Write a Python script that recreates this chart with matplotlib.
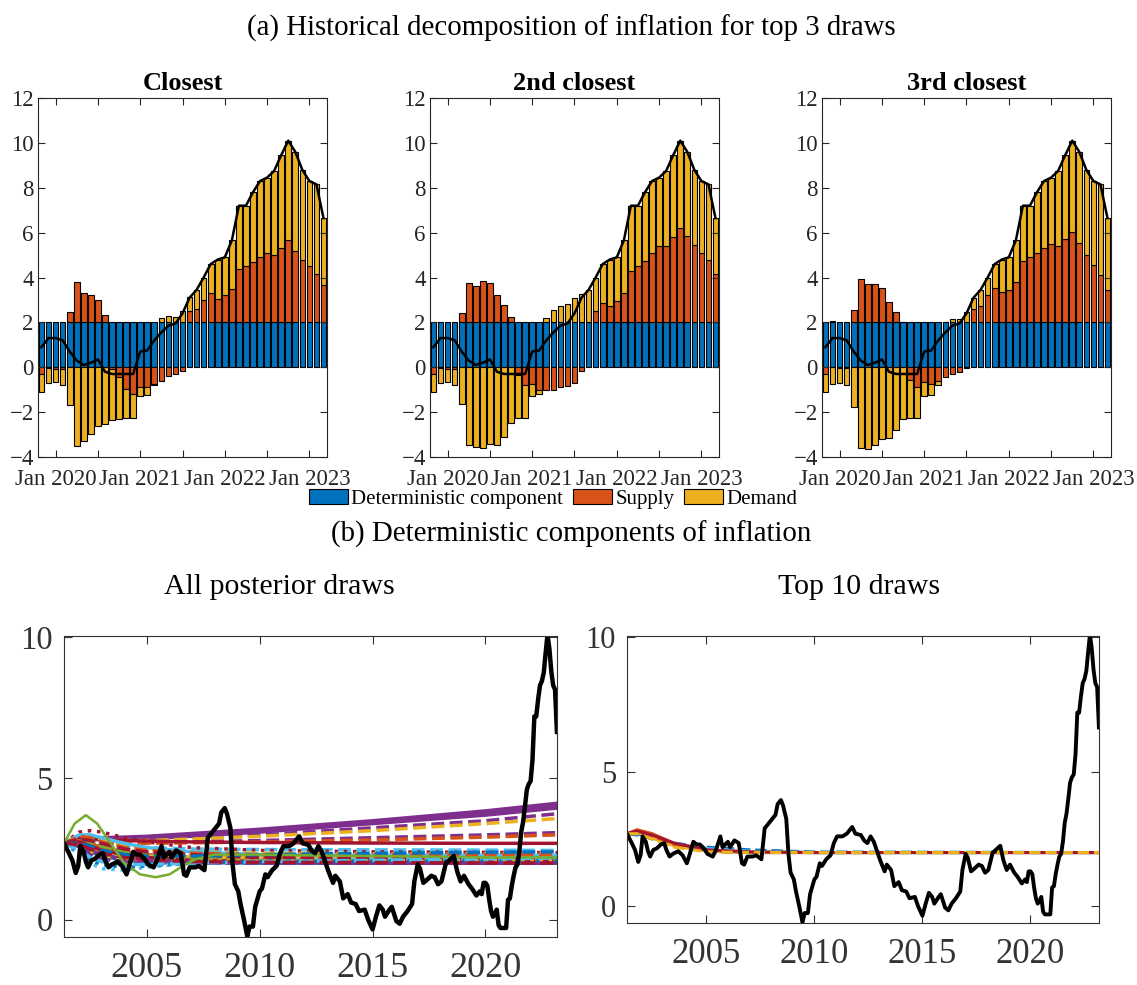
import numpy as np
import pandas as pd
import matplotlib.pyplot as plt

plt.switch_backend('agg')
plt.rcParams['font.family'] = ['Liberation Serif', 'DejaVu Serif']

# matlab default colour order
BLUE, ORANGE, YELLOW = '#0072BD', '#D95319', '#EDB120'
PURPLE, GREEN, CYAN, DRED = '#7E2F8E', '#77AC30', '#4DBEEE', '#A2142F'
AXGRAY = '#262626'

###
# historical decomposition, Nov 2019 - Mar 2023
###
months = pd.date_range('2019-11-01', '2023-03-01', freq='MS')
infl_top = [0.9, 1.3, 1.3, 1.2, 0.7, 0.3, 0.1, 0.2, 0.35, -0.2, -0.3, -0.3, -0.3, -0.3,
            0.7, 0.75, 1.2, 1.55, 1.85, 1.95, 2.4, 3.1, 3.45, 4.0, 4.6, 4.8, 4.9, 5.65,
            7.2, 7.2, 7.8, 8.3, 8.45, 8.75, 9.45, 10.1, 9.6, 8.8, 8.3, 8.15, 6.65]
determ = [2.0] * len(infl_top)

supply_1 = [-0.3, -0.05, -0.1, -0.1, 0.46, 1.8, 1.32, 1.2, 0.98, 0.32, -0.1, -0.45, -0.95, -1.2,
            -0.9, -0.9, -0.75, -0.6, -0.4, -0.3, -0.15, 0.5, 0.6, 1.0, 1.3, 1.05, 1.2, 1.5,
            2.4, 2.5, 2.7, 2.9, 3.1, 3.0, 3.3, 3.65, 3.2, 2.8, 2.5, 2.15, 1.65]
demand_1 = [-0.82, -0.65, -0.55, -0.7, -1.67, -3.5, -3.27, -2.98, -2.63, -2.53, -2.24, -1.85, -1.3, -1.05,
            -0.4, -0.35, -0.05, 0.2, 0.3, 0.25, 0.5, 0.62, 0.85, 1.0, 1.3, 1.75, 1.7, 2.15,
            2.8, 2.7, 3.1, 3.4, 3.35, 3.75, 4.15, 4.45, 4.4, 4.0, 3.8, 4.0, 3.0]

supply_2 = [-0.3, -0.03, -0.1, -0.1, 0.43, 1.76, 1.6, 1.84, 1.75, 1.2, 0.78, 0.23, -0.35, -0.8,
            -0.75, -1.0, -1.0, -1.0, -0.9, -0.85, -0.7, -0.15, 0.0, 0.5, 0.85, 0.75, 0.95, 1.3,
            2.3, 2.5, 2.75, 3.1, 3.4, 3.4, 3.8, 4.2, 3.85, 3.45, 3.1, 2.8, 2.15]
demand_2 = [-0.8, -0.67, -0.55, -0.7, -1.65, -3.45, -3.55, -3.6, -3.4, -3.45, -3.1, -2.5, -1.9, -1.45,
            -0.55, -0.2, 0.2, 0.55, 0.75, 0.8, 1.1, 1.25, 1.45, 1.5, 1.75, 2.05, 1.95, 2.35,
            2.9, 2.7, 3.05, 3.2, 3.05, 3.35, 3.65, 3.9, 3.75, 3.35, 3.2, 3.35, 2.5]

supply_3 = [-0.3, 0.05, -0.05, -0.05, 0.53, 1.94, 1.7, 1.7, 1.53, 0.93, 0.48, 0.0, -0.55, -0.9,
            -0.65, -0.75, -0.6, -0.45, -0.3, -0.2, -0.05, 0.6, 0.75, 1.2, 1.55, 1.35, 1.45, 1.8,
            2.75, 2.9, 3.1, 3.3, 3.5, 3.4, 3.7, 4.05, 3.55, 3.0, 2.55, 2.1, 1.45]
demand_3 = [-0.8, -0.75, -0.65, -0.75, -1.75, -3.6, -3.65, -3.45, -3.2, -3.15, -2.8, -2.3, -1.7, -1.35,
            -0.65, -0.5, -0.2, 0.0, 0.16, 0.15, 0.45, 0.5, 0.7, 0.8, 1.05, 1.45, 1.45, 1.85,
            2.45, 2.3, 2.7, 3.0, 2.95, 3.35, 3.75, 4.05, 4.05, 3.8, 3.75, 4.05, 3.2]

panel_titles = ['Closest', '2nd closest', '3rd closest']

###
# inflation since 2001 (read up to Oct 2019, then the monthly values above)
###
hist_years = [2001.33, 2001.55, 2001.7, 2001.85, 2001.96, 2002.05, 2002.2, 2002.3, 2002.4, 2002.55,
              2002.7, 2002.9, 2003.05, 2003.15, 2003.3, 2003.45, 2003.7, 2003.9, 2004.1, 2004.2,
              2004.4, 2004.55, 2004.7, 2004.9, 2005.05, 2005.3, 2005.45, 2005.65, 2005.75, 2006.0,
              2006.1, 2006.3, 2006.5, 2006.65, 2006.75, 2006.9, 2007.15, 2007.3, 2007.55, 2007.7,
              2007.9, 2008.05, 2008.2, 2008.3, 2008.45, 2008.55, 2008.7, 2008.8, 2008.9, 2009.05,
              2009.15, 2009.3, 2009.45, 2009.55, 2009.7, 2009.8, 2010.0, 2010.1, 2010.25, 2010.35,
              2010.55, 2010.75, 2010.9, 2011.05, 2011.3, 2011.5, 2011.65, 2011.75, 2011.9, 2012.15,
              2012.3, 2012.45, 2012.6, 2012.75, 2012.9, 2013.05, 2013.25, 2013.35, 2013.55, 2013.7,
              2013.9, 2014.05, 2014.25, 2014.4, 2014.65, 2014.8, 2015.0, 2015.15, 2015.3, 2015.45,
              2015.55, 2015.75, 2015.85, 2016.05, 2016.2, 2016.35, 2016.55, 2016.75, 2016.85, 2017.0,
              2017.1, 2017.25, 2017.4, 2017.6, 2017.75, 2017.9, 2018.05, 2018.25, 2018.4, 2018.6,
              2018.75, 2018.9, 2019.05, 2019.25, 2019.4, 2019.6, 2019.75]
hist_infl = [2.7, 2.35, 2.1, 1.65, 1.9, 2.6, 2.4, 2.05, 1.85, 2.1,
             2.15, 2.3, 2.35, 2.1, 1.85, 1.95, 2.05, 1.9, 1.6, 1.85,
             2.4, 2.3, 2.3, 2.15, 1.95, 1.85, 2.1, 2.6, 2.2, 2.4,
             2.2, 2.45, 2.35, 1.6, 1.55, 1.85, 1.85, 1.9, 1.75, 2.9,
             3.1, 3.25, 3.4, 3.8, 3.95, 3.75, 3.25, 1.95, 1.25, 1.0,
             0.55, 0.0, -0.6, -0.25, -0.25, 0.45, 1.0, 1.1, 1.6, 1.5,
             1.75, 1.9, 2.35, 2.6, 2.6, 2.7, 2.85, 2.95, 2.7, 2.65,
             2.45, 2.35, 2.6, 2.4, 2.05, 1.7, 1.3, 1.55, 1.35, 0.75,
             0.9, 0.6, 0.55, 0.3, 0.35, 0.0, -0.35, 0.1, 0.5, 0.35,
             0.1, 0.35, 0.45, -0.05, -0.15, 0.1, 0.3, 0.55, 1.35, 1.95,
             1.8, 1.3, 1.4, 1.55, 1.5, 1.25, 1.35, 2.0, 2.1, 2.25,
             1.7, 1.35, 1.55, 1.25, 1.1, 0.85, 1.0]

# deterministic components, one row per posterior draw, read at these dates
draw_knots = [2001.33, 2002.0, 2002.5, 2003.0, 2004.0, 2005.0, 2007.0, 2010.0, 2015.0, 2020.0, 2023.17]
all_draws = [
    (PURPLE, '-', [2.7, 2.85, 2.9, 2.9, 2.92, 2.95, 3.05, 3.2, 3.5, 3.85, 4.12]),
    (PURPLE, '-', [2.7, 2.8, 2.85, 2.87, 2.9, 2.92, 3.0, 3.15, 3.45, 3.8, 4.05]),
    (PURPLE, '-', [2.7, 2.8, 2.82, 2.84, 2.86, 2.88, 2.95, 3.1, 3.4, 3.7, 3.95]),
    (PURPLE, '--', [2.7, 2.8, 2.8, 2.8, 2.82, 2.85, 2.9, 3.0, 3.25, 3.5, 3.75]),
    (YELLOW, '--', [2.7, 2.78, 2.78, 2.78, 2.8, 2.8, 2.85, 2.95, 3.15, 3.4, 3.58]),
    (PURPLE, '--', [2.7, 2.75, 2.75, 2.72, 2.72, 2.72, 2.75, 2.8, 2.9, 3.0, 3.08]),
    (ORANGE, '--', [2.7, 2.72, 2.72, 2.7, 2.7, 2.7, 2.72, 2.75, 2.82, 2.92, 3.0]),
    (DRED, '-', [2.7, 2.9, 2.9, 2.85, 2.8, 2.78, 2.75, 2.73, 2.71, 2.7, 2.7]),
    (CYAN, '--', [2.7, 2.9, 2.85, 2.75, 2.6, 2.55, 2.5, 2.48, 2.47, 2.46, 2.45]),
    (DRED, ':', [2.7, 3.1, 3.15, 3.1, 2.9, 2.75, 2.55, 2.45, 2.4, 2.38, 2.37]),
    (BLUE, '-', [2.7, 2.6, 2.4, 2.25, 2.1, 2.05, 2.02, 2.0, 2.0, 2.0, 2.0]),
    (ORANGE, '-', [2.7, 2.8, 2.7, 2.55, 2.4, 2.3, 2.2, 2.15, 2.1, 2.1, 2.1]),
    (YELLOW, '-', [2.7, 2.65, 2.5, 2.4, 2.3, 2.25, 2.2, 2.2, 2.2, 2.2, 2.2]),
    (CYAN, ':', [2.7, 2.3, 2.0, 1.8, 1.75, 1.85, 2.0, 2.1, 2.15, 2.15, 2.15]),
    (BLUE, '--', [2.7, 2.9, 2.8, 2.65, 2.45, 2.35, 2.25, 2.2, 2.15, 2.12, 2.1]),
    (PURPLE, ':', [2.7, 2.75, 2.6, 2.45, 2.3, 2.2, 2.1, 2.05, 2.03, 2.02, 2.02]),
    (GREEN, '--', [2.7, 2.85, 2.75, 2.6, 2.4, 2.3, 2.25, 2.25, 2.25, 2.25, 2.25]),
    (DRED, '-', [2.7, 2.75, 2.6, 2.45, 2.3, 2.2, 2.1, 2.05, 2.03, 2.02, 2.02]),
    (YELLOW, '--', [2.7, 3.0, 2.95, 2.85, 2.65, 2.5, 2.4, 2.35, 2.33, 2.32, 2.32]),
    (ORANGE, ':', [2.7, 2.5, 2.3, 2.15, 2.05, 2.05, 2.1, 2.15, 2.2, 2.25, 2.28]),
    (PURPLE, '-', [2.7, 2.6, 2.45, 2.3, 2.15, 2.1, 2.05, 2.02, 2.0, 2.0, 2.0]),
    (CYAN, '-', [2.7, 3.0, 3.0, 2.9, 2.7, 2.55, 2.4, 2.3, 2.28, 2.27, 2.27]),
    (BLUE, ':', [2.7, 2.4, 2.1, 1.95, 1.85, 1.9, 2.0, 2.05, 2.08, 2.1, 2.1]),
    (GREEN, ':', [2.7, 2.6, 2.45, 2.3, 2.2, 2.15, 2.12, 2.12, 2.12, 2.12, 2.12]),
    (ORANGE, '--', [2.7, 2.95, 2.9, 2.75, 2.55, 2.45, 2.35, 2.3, 2.3, 2.3, 2.3]),
    (DRED, '--', [2.7, 2.85, 2.8, 2.7, 2.5, 2.4, 2.3, 2.2, 2.15, 2.12, 2.1]),
    (YELLOW, ':', [2.7, 2.55, 2.35, 2.2, 2.1, 2.05, 2.05, 2.07, 2.08, 2.08, 2.08]),
    (BLUE, '--', [2.7, 2.7, 2.6, 2.45, 2.3, 2.25, 2.25, 2.3, 2.35, 2.38, 2.4]),
    (PURPLE, '--', [2.7, 2.5, 2.3, 2.15, 2.05, 2.0, 2.0, 2.0, 2.0, 2.0, 2.0]),
    (CYAN, '--', [2.7, 2.45, 2.2, 2.05, 1.95, 1.95, 2.0, 2.05, 2.1, 2.15, 2.18]),
    (DRED, '--', [2.7, 2.65, 2.5, 2.35, 2.2, 2.12, 2.05, 2.03, 2.02, 2.0, 2.0]),
]
# the one oscillating draw
green_years = [2001.33, 2001.8, 2002.3, 2002.8, 2003.4, 2004.0, 2004.7, 2005.4, 2006.0, 2006.6,
               2007.2, 2008.0, 2010.0, 2015.0, 2020.0, 2023.17]
green_draw = [2.7, 3.4, 3.7, 3.4, 2.7, 2.0, 1.6, 1.5, 1.6, 1.9, 2.15, 2.3, 2.3, 2.25, 2.2, 2.2]

top_knots = [2001.33, 2001.8, 2002.5, 2003.5, 2005.0, 2007.0, 2010.0, 2023.17]
top10_draws = [
    (BLUE, '--', [2.7, 2.65, 2.55, 2.35, 2.2, 2.1, 2.02, 2.0]),
    (ORANGE, '-', [2.7, 2.85, 2.7, 2.35, 2.1, 2.02, 2.0, 2.0]),
    (GREEN, '-', [2.7, 2.75, 2.55, 2.3, 2.1, 2.02, 2.0, 2.0]),
    (CYAN, '--', [2.7, 2.7, 2.55, 2.35, 2.15, 2.05, 2.0, 2.0]),
    (BLUE, '-', [2.7, 2.7, 2.55, 2.3, 2.08, 2.0, 2.0, 2.0]),
    (PURPLE, '--', [2.7, 2.7, 2.5, 2.25, 2.05, 2.0, 2.0, 2.0]),
    (YELLOW, '-', [2.7, 2.75, 2.55, 2.25, 2.05, 2.0, 2.0, 2.0]),
    (ORANGE, '--', [2.7, 2.8, 2.6, 2.3, 2.05, 2.0, 2.0, 2.0]),
    (DRED, '-', [2.7, 2.8, 2.65, 2.35, 2.1, 2.02, 2.0, 2.0]),
    (YELLOW, '--', [2.7, 2.7, 2.5, 2.2, 2.03, 2.0, 2.0, 2.0]),
]

W, H = 1137, 985
fig = plt.figure(figsize=(W / 100, H / 100), dpi=100)


def px_axes(x0, y0, x1, y1):
    return fig.add_axes([x0 / W, 1 - y1 / H, (x1 - x0) / W, (y1 - y0) / H])


def style_box(ax, col):
    for s in ax.spines.values():
        s.set_color(col)
        s.set_linewidth(0.8)
    ax.tick_params(direction='in', top=True, right=True, colors=col, labelcolor=col,
                   length=5, width=0.8)


fig.text(571 / W, 1 - 28 / H, '(a) Historical decomposition of inflation for top 3 draws',
         ha='center', va='center', fontsize=20.8)

x = np.arange(len(months))
jan_ticks = [i for i, m in enumerate(months) if m.month in (1, 7)]
jan_labels = [m.strftime('%b %Y') if m.month == 1 else '' for m in months[jan_ticks]]

lefts = [38, 430, 822]
handles = None
for k, (sup, dem) in enumerate([(supply_1, demand_1), (supply_2, demand_2), (supply_3, demand_3)]):
    ax = px_axes(lefts[k], 98, lefts[k] + 289, 457)
    sup = np.array(sup)
    dem = np.array(dem)
    det = np.array(determ)
    # matlab-style stacking: positives above the deterministic part, negatives below zero
    sup_bot = np.where(sup >= 0, det, 0.0)
    dem_bot = np.where(dem >= 0, det + np.clip(sup, 0, None), np.clip(sup, None, 0))
    kw = dict(width=0.8, edgecolor='black', linewidth=0.8)
    b1 = ax.bar(x, det, color=BLUE, **kw)
    b2 = ax.bar(x, sup, bottom=sup_bot, color=ORANGE, **kw)
    b3 = ax.bar(x, dem, bottom=dem_bot, color=YELLOW, **kw)
    ax.plot(x, infl_top, color='black', lw=1.8)
    ax.set_xlim(-0.5, len(x) - 0.5)
    ax.set_ylim(-4, 12)
    ax.set_yticks(np.arange(-4, 13, 2))
    ax.set_xticks(jan_ticks)
    ax.set_xticklabels(jan_labels)
    style_box(ax, AXGRAY)
    ax.tick_params(labelsize=16.5)
    ax.tick_params(axis='y', pad=3)
    ax.tick_params(axis='x', pad=8.5)
    ax.set_title(panel_titles[k], fontsize=19, fontweight='bold', pad=6)
    if handles is None:
        handles = [b1, b2, b3]

fig.legend(handles, ['Deterministic component', 'Supply', 'Demand'], loc='center',
           bbox_to_anchor=(553 / W, 1 - 499 / H), ncol=3, frameon=False, fontsize=15,
           handlelength=1.9, handleheight=0.75, handletextpad=0.15, columnspacing=0.45,
           borderpad=0)

fig.text(571 / W, 1 - 534 / H, '(b) Deterministic components of inflation',
         ha='center', va='center', fontsize=20.8)

# full inflation path for the lower panels
bar_years = [m.year + (m.month - 1) / 12 for m in months]
infl_years = np.array(hist_years + bar_years)
infl_all = np.array(hist_infl + infl_top)

axL = px_axes(64, 636, 557, 937)
for col, ls, vals in all_draws:
    axL.plot(draw_knots, vals, color=col, ls=ls, lw=2.5)
axL.plot(green_years, green_draw, color=GREEN, lw=1.8)
axL.plot(infl_years, infl_all, color='black', lw=3.2)
fig.text(279 / W, 1 - 587 / H, 'All posterior draws', ha='center', va='center', fontsize=21.5)

axR = px_axes(627, 636, 1099, 923)
for col, ls, vals in top10_draws:
    axR.plot(top_knots, vals, color=col, ls=ls, lw=2.2)
axR.plot(infl_years, infl_all, color='black', lw=2.8)
fig.text(859 / W, 1 - 587 / H, 'Top 10 draws', ha='center', va='center', fontsize=21.5)

for ax, xs, ys in ((axL, 26, 23.5), (axR, 25, 22)):
    ax.set_xlim(2001.33, 2023.17)
    ax.set_ylim(-0.62, 10.05)
    ax.set_xticks([2005, 2010, 2015, 2020])
    ax.set_yticks([0, 5, 10])
    style_box(ax, '#333333')
    ax.tick_params(length=6)
    ax.tick_params(axis='x', labelsize=xs, pad=11)
    ax.tick_params(axis='y', labelsize=ys, pad=8)

fig.savefig('out.png', dpi=100)
